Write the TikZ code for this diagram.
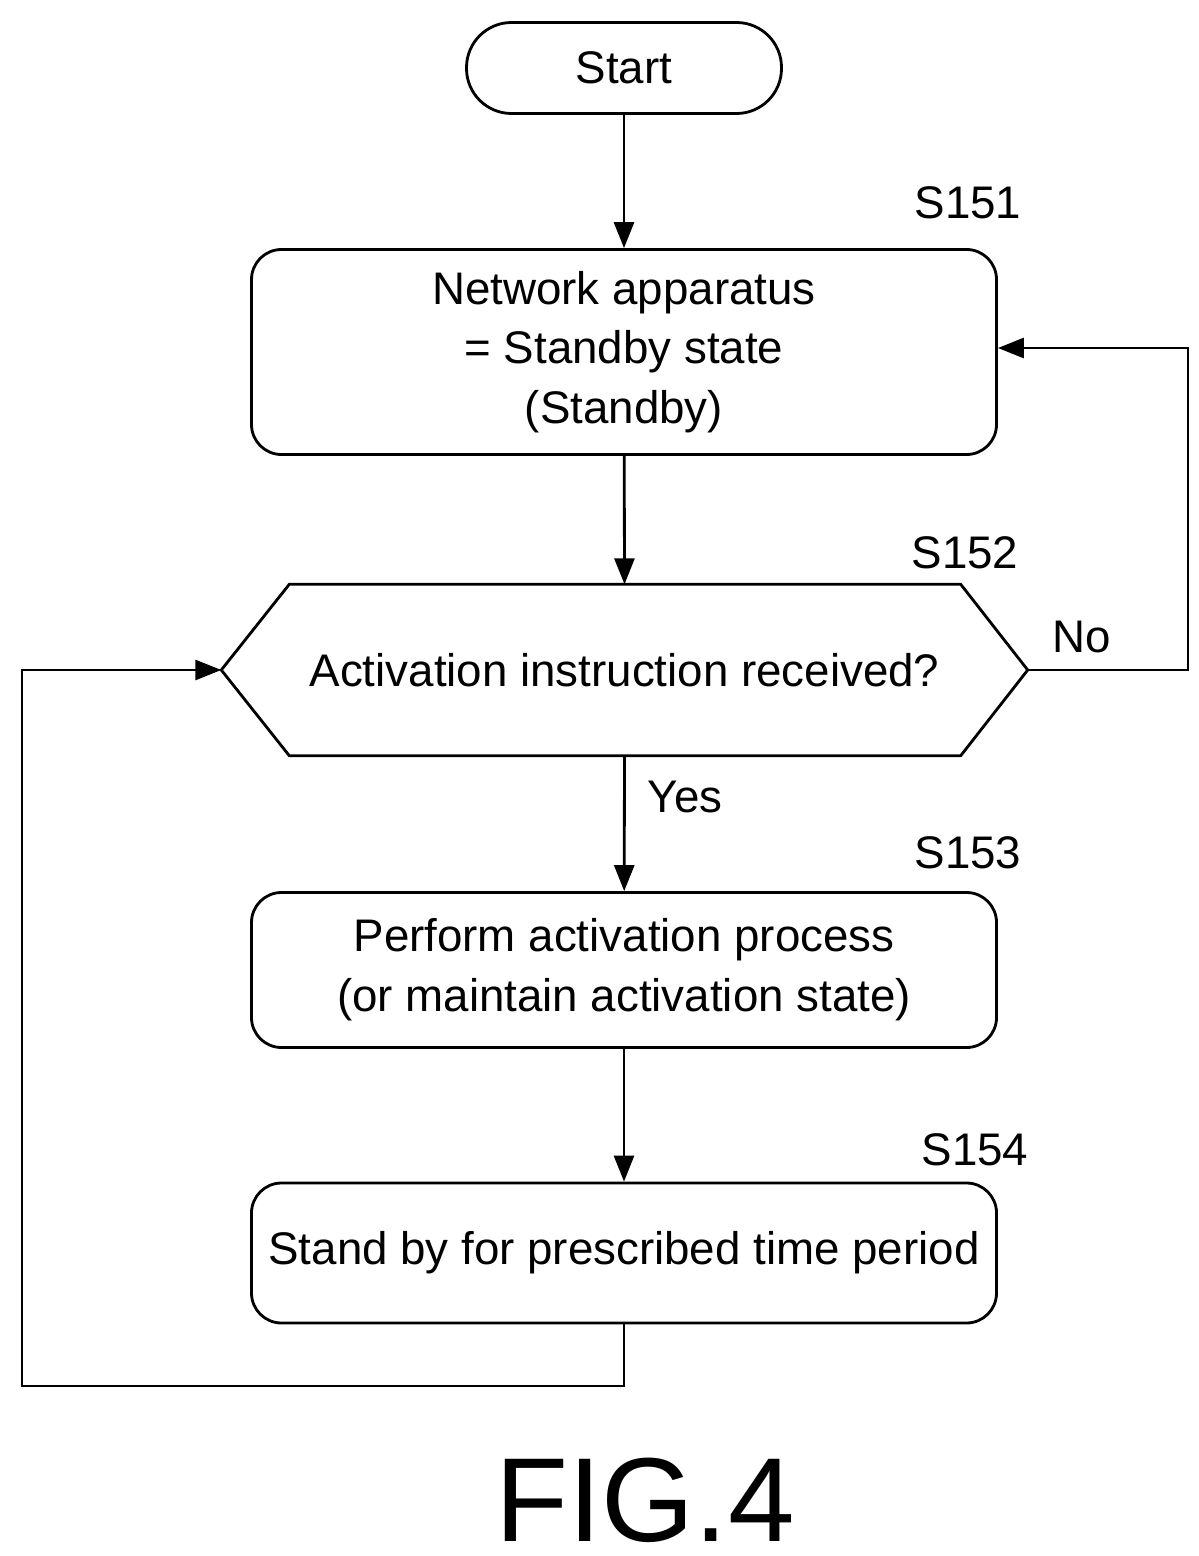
\documentclass[tikz,border=0pt]{standalone}
\usepackage{fontspec}
\setmainfont{Liberation Sans}
\usetikzlibrary{shapes,arrows.meta}
\usetikzlibrary{positioning}

\tikzset{
    procbox/.style={draw, line width=0.8pt, rounded corners=0.3cm, minimum width=7.45cm, align=center, font=\fontsize{13}{17}\selectfont},
    flow/.style={line width=0.8pt, -{Triangle[length=2.6mm,width=2mm]}},
    tag/.style={font=\fontsize{13}{16}\selectfont},
}

\begin{document}
\begin{tikzpicture}

    \useasboundingbox (0,0) rectangle (11.98,-15.56);

    % Start
    \node[draw, line width=0.8pt, rounded corners=0.45cm, minimum width=3.15cm, minimum height=0.91cm,
          font=\fontsize{13}{16}\selectfont] (start) at (6.24,-0.68) {Start};

    % S151
    \node[procbox, minimum height=2.05cm] (standby) at (6.24,-3.52)
        {Network apparatus\\= Standby state\\(Standby)};
    \node[tag] (t151) at (9.68,-2.03) {S151};

    % S152
    \node[minimum width=8.05cm, minimum height=1.7cm, font=\fontsize{13}{16}\selectfont] (check) at (6.245,-6.70)
        {Activation instruction received?};
    \draw[line width=0.8pt] (check.west) -- ([xshift=0.68cm]check.north west) -- ([xshift=-0.67cm]check.north east)
        -- (check.east) -- ([xshift=-0.67cm]check.south east) -- ([xshift=0.68cm]check.south west) -- cycle;
    \node[tag] (t152) at (9.65,-5.53) {S152};
    \node[tag] (no) at (10.82,-6.37) {No};
    \node[tag] (yes) at (6.85,-7.97) {Yes};

    % S153
    \node[procbox, minimum height=1.55cm] (perform) at (6.24,-9.70)
        {Perform activation process\\(or maintain activation state)};
    \node[tag] (t153) at (9.68,-8.53) {S153};

    % S154
    \node[procbox, minimum height=1.40cm] (wait) at (6.24,-12.53)
        {Stand by for prescribed time period};
    \node[tag] (t154) at (9.75,-11.50) {S154};

    % corners
    \coordinate (noc) at (11.88,-6.70);
    \coordinate (loopc) at (0.22,-13.86);

    % ================================
    % Arrows
    \draw[flow] (start) -- (standby);
    \draw[flow] (standby) -- (check.north);
    \draw[flow] (check.south) -- (perform);
    \draw[flow] (perform) -- (wait);
    \draw[flow] (check.east) -- (noc) |- ([yshift=0.04cm]standby.east);
    \draw[flow] (wait.south) |- (loopc) |- (check.west);

    % Caption
    \node[font=\fontsize{34}{40}\selectfont] (fig) at (6.45,-15.00) {FIG.4};

\end{tikzpicture}
\end{document}
